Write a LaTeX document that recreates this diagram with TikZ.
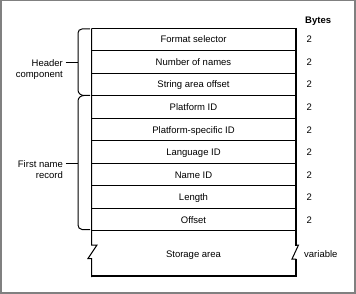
\documentclass[tikz,border=0pt]{standalone}
\usepackage{fontspec}
\setmainfont{Liberation Sans}
\definecolor{framegray}{RGB}{128,128,128}
\begin{document}
\begin{tikzpicture}[x=1pt,y=-1pt,
  txt/.style={font=\fontsize{9.5}{11}\selectfont, inner sep=0pt},
  rowtext/.style={txt, anchor=base},
  bytetext/.style={txt, anchor=base west},
  sidelabel/.style={txt, align=right, anchor=north east},
  thinline/.style={line width=1pt},
  thickedge/.style={line width=2.5pt},
  bottomedge/.style={line width=2pt}]
\fill[framegray] (0,0) rectangle (356,294);
\fill[white] (1.5,1) rectangle (354,291.5);
\useasboundingbox (0,0) rectangle (356,294);
% row separators
\foreach \k in {0,...,9}{
  \draw[thinline] (91.5,28.3+22.52*\k) -- (296,28.3+22.52*\k);
}
% row texts and byte counts
\foreach \t [count=\i] in {Format selector,Number of names,String area offset,Platform ID,Platform-specific ID,Language ID,Name ID,Length,Offset}{
  \node[rowtext] (r\i) at (193.5,28.3+22.52*\i-22.52/2+3.4) {\t};
  \node[bytetext] (b\i) at (306.5,28.3+22.52*\i-22.52/2+3.4) {2};
}
\node[txt, anchor=base west, font=\fontsize{9.5}{11}\selectfont\bfseries] (bytes) at (305,23.5) {Bytes};
\node[rowtext] (storage) at (193.5,257.5) {Storage area};
\node[bytetext] (var) at (304,257.5) {variable};
% left edge with break
\draw[thinline] (91.5,28.3) -- (91.5,245) -- (97,245) -- (88,258.5) -- (91.5,258.5) -- (91.5,277);
% bottom edge
\draw[bottomedge] (91,276) -- (297.2,276);
% right edge with break
\draw[thickedge] (296,28) -- (296,245.5);
\draw[thinline] (296,245) -- (298.5,245) -- (292,259) -- (296,259);
\draw[thickedge] (296,258.5) -- (296,277);
% braces
\draw[thinline] (90,29) -- (82,29) to[out=180,in=90] (78,33) -- (78,90) to[out=-90,in=180] (84,95.5) -- (90,95.5);
\draw[thinline] (84,95.5) to[out=180,in=90] (78,101) -- (78,225) to[out=-90,in=180] (82,229.5) -- (90,229.5);
\coordinate (hb) at (78,62.5);
\coordinate (fb) at (78,163.5);
\node[sidelabel] (hl) at (63,59) {Header\\component};
\node[sidelabel] (fl) at (63,160) {First name\\record};
\draw[thinline] ([xshift=2.5pt]hl.north east |- hb) -- (hb);
\draw[thinline] ([xshift=2.5pt]fl.north east |- fb) -- (fb);
\end{tikzpicture}
\end{document}
